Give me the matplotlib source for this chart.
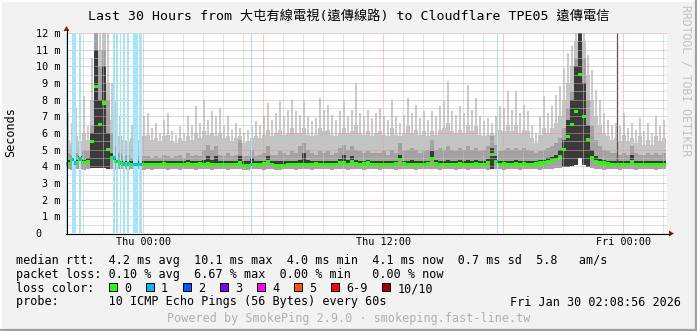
import numpy as np
import matplotlib
matplotlib.use("Agg")
import matplotlib.pyplot as plt
from matplotlib.lines import Line2D
from matplotlib.patches import Rectangle, Polygon
from matplotlib.transforms import Affine2D

W, H = 697, 331
MONO = "DejaVu Sans Mono"
CJK = ["DejaVu Sans Mono", "Noto Sans CJK TC"]

# время: часы от "Thu 00:00", шаг 12 минут (150 интервалов за 30 часов)
T0 = -3.865
STEP = 0.2

# верхушки дыма (макс. ping), мс
rtt_max = [
    7.2, 6.6, 7.5, 6.8, 8.2, 6.4, 10.5, 12.0, 12.0, 12.0,
    12.0, 9.0, 8.0, 7.0, 6.6, 6.2, 6.5, 6.0, 6.3, 7.0,
    7.2, 6.3, 6.6, 6.0, 6.8, 7.2, 6.1, 5.9, 6.4, 6.0,
    7.0, 6.5, 7.6, 6.6, 8.0, 6.8, 7.3, 7.0, 7.5, 6.5,
    7.0, 6.2, 6.6, 6.3, 6.0, 6.2, 6.4, 6.7, 6.5, 7.0,
    7.8, 6.8, 7.2, 7.9, 7.0, 7.4, 8.0, 7.3, 7.1, 7.9,
    7.0, 6.7, 6.9, 8.1, 7.4, 7.7, 7.1, 6.8, 7.3, 7.9,
    7.0, 7.4, 9.0, 7.2, 7.0, 7.4, 6.9, 7.2, 7.5, 7.0,
    6.8, 8.0, 7.0, 6.6, 7.1, 8.1, 7.2, 7.7, 6.9, 7.3,
    6.8, 7.3, 7.0, 7.6, 7.9, 9.1, 7.3, 7.1, 7.6, 7.2,
    8.9, 7.4, 8.1, 7.0, 6.7, 6.9, 6.6, 7.0, 7.6, 7.5,
    8.5, 7.4, 8.5, 7.2, 7.7, 7.3, 6.5, 6.0, 7.0, 8.2,
    7.2, 7.6, 8.3, 8.8, 9.9, 10.8, 11.2, 12.0, 12.0, 12.0,
    10.7, 9.8, 8.6, 8.0, 7.2, 6.8, 6.5, 6.6, 6.4, 7.2,
    6.3, 6.6, 6.2, 6.9, 6.1, 6.6, 6.0, 7.0, 6.4, 6.8,
]
# плотная часть светлого дыма
rtt_body = [
    5.6, 5.4, 5.8, 5.5, 6.0, 5.6, 8.0, 12.0, 11.0, 12.0,
    9.0, 6.8, 6.2, 5.8, 5.6, 5.5, 5.7, 5.4, 5.6, 5.8,
    5.9, 5.6, 5.7, 5.5, 5.8, 5.9, 5.5, 5.4, 5.7, 5.5,
    5.8, 5.6, 6.0, 5.7, 6.1, 5.9, 6.0, 5.8, 6.0, 5.7,
    5.8, 5.5, 5.7, 5.8, 5.4, 5.5, 5.7, 5.8, 5.7, 5.9,
    6.2, 5.8, 6.0, 6.2, 5.9, 6.0, 6.3, 6.0, 6.0, 6.3,
    5.9, 5.8, 5.9, 6.3, 6.1, 6.2, 5.9, 5.8, 6.0, 6.3,
    6.0, 6.1, 6.5, 6.0, 5.9, 6.1, 5.8, 6.0, 6.1, 5.9,
    5.8, 6.3, 5.9, 5.8, 6.0, 6.4, 6.0, 6.2, 5.9, 6.1,
    5.8, 6.1, 5.9, 6.2, 6.3, 6.6, 6.1, 6.0, 6.2, 6.0,
    6.5, 6.1, 6.4, 5.9, 5.8, 5.9, 6.0, 5.9, 6.2, 6.1,
    6.5, 6.1, 6.5, 6.0, 6.2, 6.1, 5.7, 5.4, 5.9, 6.3,
    6.0, 6.3, 6.6, 7.0, 8.0, 9.0, 10.0, 11.5, 12.0, 11.5,
    9.5, 8.0, 7.0, 6.5, 6.0, 5.8, 5.6, 5.7, 5.5, 5.9,
    5.5, 5.7, 5.4, 5.8, 5.3, 5.6, 5.3, 5.8, 5.5, 5.7,
]
# средний слой дыма
rtt_hi = [
    4.8, 4.7, 4.8, 4.6, 5.0, 4.9, 6.5, 12.0, 10.0, 11.0,
    8.0, 6.0, 5.2, 4.8, 4.6, 4.7, 4.5, 4.5, 4.6, 4.6,
    4.6, 4.5, 4.6, 4.5, 4.7, 4.6, 4.5, 4.6, 4.7, 4.5,
    4.8, 4.6, 4.7, 4.6, 5.0, 5.3, 5.0, 5.2, 4.7, 4.6,
    4.8, 4.6, 4.7, 5.6, 4.6, 4.6, 5.0, 4.6, 4.7, 4.8,
    5.2, 4.7, 4.7, 4.9, 4.8, 4.7, 4.9, 4.8, 5.2, 5.4,
    5.0, 4.8, 4.7, 4.9, 4.8, 4.9, 4.7, 4.8, 5.1, 5.3,
    5.0, 5.2, 5.0, 4.9, 4.8, 4.9, 4.8, 4.8, 4.8, 4.9,
    4.7, 5.0, 4.8, 5.4, 4.9, 5.0, 5.1, 5.0, 4.8, 4.9,
    5.0, 5.6, 5.0, 5.1, 5.0, 5.2, 5.0, 4.9, 5.1, 5.0,
    5.2, 5.0, 5.1, 4.9, 5.0, 5.2, 5.8, 5.3, 4.9, 5.0,
    5.1, 5.0, 5.1, 5.0, 5.1, 5.0, 4.9, 4.8, 4.9, 5.0,
    5.1, 5.2, 5.4, 5.7, 6.3, 7.5, 8.5, 10.5, 12.0, 10.5,
    8.0, 6.5, 5.6, 5.2, 5.0, 4.9, 4.8, 4.8, 4.7, 4.8,
    4.7, 5.2, 4.8, 4.7, 4.7, 4.8, 4.7, 4.8, 4.7, 4.8,
]
# тёмное ядро дыма
rtt_dark = [
    4.4, 4.5, 4.4, 4.6, 4.4, 4.5, 6.0, 11.0, 8.0, 10.0,
    6.0, 4.8, 4.5, 4.35, 4.3, 4.3, 4.3, 4.3, 4.3, 4.35,
    4.3, 4.3, 4.3, 4.3, 4.35, 4.3, 4.3, 4.3, 4.35, 4.3,
    4.4, 4.3, 4.3, 4.3, 4.4, 4.6, 4.4, 4.6, 4.3, 4.3,
    4.35, 4.3, 4.3, 4.6, 4.3, 4.3, 4.5, 4.3, 4.3, 4.35,
    4.6, 4.3, 4.3, 4.35, 4.3, 4.3, 4.35, 4.3, 4.4, 4.8,
    4.4, 4.3, 4.3, 4.35, 4.3, 4.35, 4.3, 4.3, 4.45, 4.7,
    4.4, 4.6, 4.4, 4.3, 4.3, 4.4, 4.3, 4.3, 4.3, 4.3,
    4.3, 4.35, 4.3, 4.7, 4.35, 4.3, 4.4, 4.35, 4.3, 4.3,
    4.35, 4.9, 4.4, 4.35, 4.3, 4.4, 4.35, 4.3, 4.4, 4.3,
    4.4, 4.3, 4.4, 4.3, 4.35, 4.45, 5.1, 4.6, 4.3, 4.35,
    4.3, 4.3, 4.4, 4.3, 4.35, 4.3, 4.3, 4.35, 4.4, 4.4,
    4.5, 4.55, 4.7, 5.0, 5.6, 6.8, 8.0, 10.0, 12.0, 9.0,
    6.5, 5.0, 4.6, 4.45, 4.4, 4.35, 4.3, 4.3, 4.3, 4.3,
    4.3, 4.7, 4.3, 4.3, 4.3, 4.3, 4.3, 4.3, 4.3, 4.3,
]
# медиана rtt
rtt_med = [
    4.15, 4.4, 4.2, 4.45, 4.25, 4.3, 5.5, 8.8, 6.5, 7.8,
    5.0, 4.5, 4.3, 4.2, 4.15, 4.15, 4.1, 4.1, 4.1, 4.1,
    4.1, 4.1, 4.1, 4.1, 4.15, 4.1, 4.1, 4.1, 4.1, 4.1,
    4.15, 4.1, 4.1, 4.15, 4.1, 4.15, 4.1, 4.1, 4.1, 4.1,
    4.1, 4.1, 4.1, 4.2, 4.05, 4.05, 4.1, 4.1, 4.1, 4.15,
    4.3, 4.1, 4.05, 4.05, 4.05, 4.1, 4.1, 4.1, 4.1, 4.1,
    4.1, 4.1, 4.15, 4.1, 4.1, 4.1, 4.1, 4.1, 4.2, 4.25,
    4.1, 4.3, 4.15, 4.1, 4.15, 4.2, 4.1, 4.1, 4.1, 4.1,
    4.1, 4.1, 4.15, 4.4, 4.15, 4.1, 4.1, 4.1, 4.1, 4.1,
    4.15, 4.45, 4.15, 4.1, 4.1, 4.1, 4.1, 4.1, 4.15, 4.1,
    4.1, 4.1, 4.15, 4.1, 4.1, 4.2, 4.7, 4.3, 4.1, 4.15,
    4.1, 4.1, 4.15, 4.1, 4.15, 4.1, 4.1, 4.15, 4.2, 4.2,
    4.3, 4.35, 4.4, 4.6, 5.0, 5.8, 6.5, 7.3, 9.5, 7.0,
    5.6, 4.5, 4.3, 4.2, 4.2, 4.15, 4.1, 4.1, 4.1, 4.1,
    4.1, 4.3, 4.1, 4.1, 4.1, 4.1, 4.1, 4.1, 4.1, 4.1,
]
# нижняя граница дыма (мин. ping)
rtt_min = [
    3.85, 3.8, 3.85, 3.85, 3.8, 3.85, 3.9, 3.9, 3.9, 3.9,
    3.85, 3.85, 3.8, 3.85, 3.85, 3.8, 3.85, 3.85, 3.85, 3.8,
    3.85, 3.8, 3.85, 3.85, 3.85, 3.8, 3.85, 3.85, 3.8, 3.85,
    3.85, 3.85, 3.8, 3.85, 3.85, 3.85, 3.8, 3.85, 3.85, 3.85,
    3.8, 3.85, 3.85, 3.85, 3.8, 3.8, 3.85, 3.85, 3.85, 3.8,
    3.85, 3.85, 3.8, 3.8, 3.85, 3.85, 3.85, 3.8, 3.85, 3.85,
    3.85, 3.8, 3.85, 3.85, 3.85, 3.85, 3.8, 3.85, 3.85, 3.85,
    3.8, 3.85, 3.85, 3.85, 3.8, 3.85, 3.85, 3.85, 3.8, 3.85,
    3.85, 3.85, 3.8, 3.85, 3.85, 3.85, 3.85, 3.8, 3.85, 3.85,
    3.85, 3.85, 3.85, 3.8, 3.85, 3.85, 3.85, 3.8, 3.85, 3.85,
    3.8, 3.85, 3.85, 3.85, 3.85, 3.8, 3.85, 3.85, 3.85, 3.8,
    3.85, 3.85, 3.85, 3.8, 3.85, 3.85, 3.85, 3.85, 3.8, 3.85,
    3.85, 3.85, 3.9, 3.9, 3.95, 3.95, 4.0, 4.1, 4.5, 4.1,
    3.95, 3.9, 3.85, 3.85, 3.8, 3.85, 3.85, 3.85, 3.8, 3.85,
    3.85, 3.85, 3.8, 3.85, 3.85, 3.85, 3.85, 3.8, 3.85, 3.85,
]

# потери 1/10: начало (часы) и длительность
loss_hours = [-3.865, -3.565, -3.45, -3.23, -1.5, -1.365, -1.165, -1.0,
              -0.83, -0.5, -0.2, 5.385, 17.685]
loss_widths = [0.1, 0.075, 0.06, 0.1, 0.07, 0.085, 0.065, 0.07,
               0.115, 0.25, 0.135, 0.05, 0.05]

# одиночный тёмный выброс
spike_hours = [23.7]
spike_low = [4.0]
spike_top = [12.0]

x_ticks = [0, 6, 12, 18, 24]
x_tick_labels = ["Thu 00:00", "", "Thu 12:00", "", "Fri 00:00"]
y_ticks = list(range(13))
y_tick_labels = ["0   "] + [f"{v} m" for v in range(1, 13)]

loss_labels = ["0", "1", "2", "3", "4", "5", "6-9", "10/10"]
loss_colors = ["#26ff00", "#00b8ff", "#0059ff", "#7e00ff", "#ff00ff",
               "#ff5500", "#ff0000", "#a10000"]

title = "Last 30 Hours from 大屯有線電視(遠傳線路) to Cloudflare TPE05 遠傳電信"
legend_lines = [
    "median rtt:  4.2 ms avg  10.1 ms max  4.0 ms min  4.1 ms now  0.7 ms sd  5.8   am/s",
    "packet loss: 0.10 % avg  6.67 % max  0.00 % min   0.00 % now",
    "loss color:",
    "probe:       10 ICMP Echo Pings (56 Bytes) every 60s",
]
stamp = "Fri Jan 30 02:08:56 2026"
footer = "Powered by SmokePing 2.9.0 · smokeping.fast-line.tw"

fig = plt.figure(figsize=(W / 100, H / 100), dpi=100, facecolor="#f2f2f2")
pix = Affine2D().scale(1 / W, -1 / H).translate(0, 1) + fig.transFigure

ax = fig.add_axes([66 / W, 1 - 233 / H, 601 / W, 200 / H], facecolor="white")
ax.set_xlim(T0, T0 + 601 / 20)
ax.set_ylim(0, 12)

n = len(rtt_max)
t_edges = T0 + STEP * np.arange(n + 1)


def ext(v):
    v = np.asarray(v, dtype=float)
    return np.append(v, v[-1])


lo = ext(rtt_min)
med = np.asarray(rtt_med)
dark = np.asarray(rtt_dark)
# в пиках тёмное ядро идёт от самого низа дыма
dark_lo = np.where(dark > 5.0, np.asarray(rtt_min), med - 0.1)

# тонкие светлые пики поверх плотного дыма
ax.bar(t_edges[:-1] + STEP * 0.2, np.asarray(rtt_max) - np.asarray(rtt_min),
       bottom=rtt_min, width=STEP * 0.45, align="edge", color="#cbcbcb", lw=0, zorder=1)
ax.fill_between(t_edges, lo, ext(rtt_body), step="post", color="#c4c4c4", lw=0, zorder=1.05)
ax.fill_between(t_edges, lo, ext(rtt_hi), step="post", color="#a2a2a2", lw=0, zorder=1.1)
ax.fill_between(t_edges, ext(dark_lo), ext(dark), step="post", color="#3a3a3a",
                lw=0, zorder=1.2)
ax.vlines(spike_hours, spike_low, spike_top, color="#505050", lw=0.9, zorder=1.3)

# потери — голубые полосы на всю высоту
ax.bar(loss_hours, 12, width=loss_widths, align="edge", color="#a6e4fa", lw=0, zorder=3)

# медиана — полоска 3 px
ax.fill_between(t_edges, ext(med - 0.1), ext(med + 0.1), step="post",
                color="#26ff00", lw=0, zorder=4)
idx = ((np.asarray(loss_hours) - T0) / STEP).astype(int).clip(0, n - 1)
ax.bar(loss_hours, 0.2, bottom=med[idx] - 0.1, width=loss_widths, align="edge",
       color="#00b8ff", lw=0, zorder=5)

# сетка
ax.set_xticks(x_ticks, x_tick_labels)
ax.set_xticks([h for h in range(-3, 27) if h % 6], minor=True)
ax.set_yticks(y_ticks, y_tick_labels)
ax.set_yticks(np.arange(0.5, 12, 1.0), minor=True)
ax.set_axisbelow(False)
ax.grid(which="minor", color="#c4c4c4", lw=0.72, linestyle=(0, (1, 1)))
ax.grid(which="major", color="#e49a9a", lw=0.72, linestyle=(0, (1, 1)))
ax.tick_params(which="both", length=0)
ax.tick_params(axis="x", pad=3.2, labelsize=7.3)
ax.tick_params(axis="y", pad=4.3, labelsize=7.3)
for lab in ax.get_xticklabels() + ax.get_yticklabels():
    lab.set_family(MONO)
for s in ax.spines.values():
    s.set_visible(False)

# оси со стрелками
fig.add_artist(Line2D([66, 670], [233.5, 233.5], transform=pix, color="black", lw=0.8))
fig.add_artist(Line2D([66.5, 66.5], [233.5, 30], transform=pix, color="black", lw=0.8))
fig.add_artist(Polygon([[669, 230.5], [674, 233.5], [669, 236.5]], closed=True,
                       transform=pix, color="#9c1a1a", lw=0))
fig.add_artist(Polygon([[63.5, 31], [66.5, 26], [69.5, 31]], closed=True,
                       transform=pix, color="#9c1a1a", lw=0))

# тексты
fig.text(348.5 / W, 1 - 19.5 / H, title, ha="center", va="baseline",
         fontsize=9.5, family=CJK)
fig.text(11 / W, 1 - 132 / H, "Seconds", rotation=90, ha="center", va="center",
         fontsize=8.5, family=MONO)
fig.text(686 / W, 1 - 5 / H, "RRDTOOL / TOBI OETIKER", rotation=270, ha="center",
         va="top", fontsize=8.3, family=MONO, color="#c2c2c2")

baselines = [264, 278, 292, 305.5]
for line, yb in zip(legend_lines, baselines):
    fig.text(16 / W, 1 - yb / H, line, ha="left", va="baseline", fontsize=8.5, family=MONO)
fig.text(680.5 / W, 1 - 305.5 / H, stamp, ha="right", va="baseline", fontsize=8.5, family=MONO)
fig.text(348.5 / W, 1 - 322 / H, footer, ha="center", va="baseline", fontsize=8.5,
         family=MONO, color="#b0b0b0")

# квадраты цвета потерь
bx = 108.7
for lab, col in zip(loss_labels, loss_colors):
    fig.add_artist(Rectangle((bx, 283), 8, 8, transform=pix, facecolor=col,
                             edgecolor="black", lw=0.72))
    fig.text((bx + 15.3) / W, 1 - 292 / H, lab, ha="left", va="baseline",
             fontsize=8.5, family=MONO)
    bx += 15.3 + 7.1 * len(lab) + 14.6

# рамка картинки
fig.add_artist(Line2D([0, W], [0.7, 0.7], transform=pix, color="white", lw=1.4))
fig.add_artist(Line2D([0.7, 0.7], [0, H], transform=pix, color="white", lw=1.4))
fig.add_artist(Line2D([0, W], [329.8, 329.8], transform=pix, color="#9f9f9f", lw=1.6))
fig.add_artist(Line2D([695.8, 695.8], [0, H], transform=pix, color="#9f9f9f", lw=1.6))

fig.savefig("out.png", dpi=100, facecolor=fig.get_facecolor())
